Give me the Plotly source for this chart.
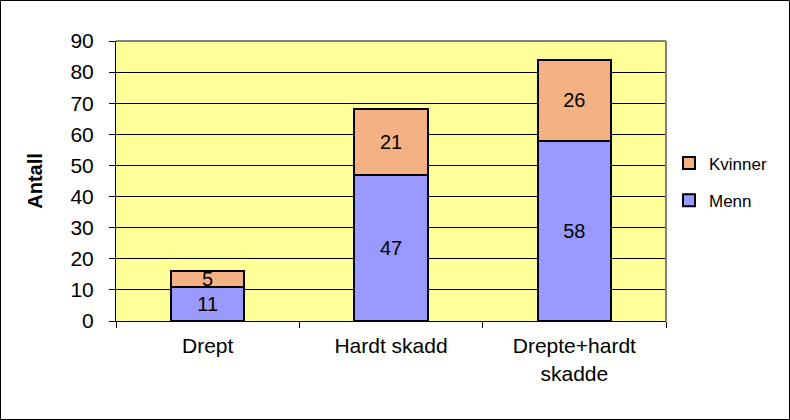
import plotly.graph_objects as go

categories = ["Drept", "Hardt skadd", "Drepte+hardt<br>skadde"]
menn = [11, 47, 58]
kvinner = [5, 21, 26]
y_ticks = [0, 10, 20, 30, 40, 50, 60, 70, 80, 90]

FONT = "Arial, Liberation Sans, sans-serif"
W, H = 790, 420
L, R, T, B = 116, 124, 41, 99
pw, ph = W - L - R, H - T - B

fig = go.Figure()
fig.add_trace(go.Bar(
    x=categories, y=menn, name="Menn", legendgroup="m", legendrank=2,
    marker=dict(color="#9999FF", line=dict(color="black", width=2)),
    text=menn, textposition="inside", insidetextanchor="middle", textangle=0,
    textfont=dict(family=FONT, size=20, color="black"),
))
fig.add_trace(go.Bar(
    x=categories, y=kvinner, name="Kvinner", legendgroup="k", legendrank=1,
    marker=dict(color="#F4B183", line=dict(color="black", width=2)),
    text=kvinner, textposition="inside", insidetextanchor="middle", textangle=0,
    textfont=dict(family=FONT, size=20, color="black"),
))

fig.update_layout(
    width=W, height=H,
    margin=dict(l=L, r=R, t=T, b=B, pad=0),
    barmode="stack", bargap=0.6,
    plot_bgcolor="#FFFF99", paper_bgcolor="white",
    font=dict(family=FONT, size=16, color="black"),
    uniformtext=dict(mode="show", minsize=10),
    showlegend=True,
    legend=dict(
        x=(669 - L) / pw, y=(321 - 182) / ph, xanchor="left", yanchor="middle",
        traceorder="grouped", font=dict(size=17, family=FONT),
        bgcolor="rgba(0,0,0,0)", itemwidth=30, tracegroupgap=12,
    ),
    xaxis=dict(
        showline=True, linecolor="black", linewidth=1,
        ticks="outside", tickson="boundaries", ticklen=6, tickcolor="black",
        tickfont=dict(size=21, family=FONT), showgrid=False,
        ticklabelstandoff=6,
    ),
    yaxis=dict(
        range=[0, 90], tickvals=y_ticks, showline=True, linecolor="black", linewidth=1,
        ticks="outside", ticklen=6, tickcolor="black",
        showgrid=True, gridcolor="black", gridwidth=1,
        tickfont=dict(size=21, family=FONT), ticklabelstandoff=11,
        title=dict(text="<b>Antall</b>", font=dict(size=20, family=FONT), standoff=22),
        zeroline=False,
    ),
    shapes=[
        dict(type="line", xref="paper", yref="paper", x0=0, x1=1, y0=1, y1=1,
             line=dict(color="#808080", width=2)),
        dict(type="line", xref="paper", yref="paper", x0=1, x1=1, y0=0, y1=1,
             line=dict(color="#808080", width=2)),
        dict(type="rect", xref="paper", yref="paper",
             x0=(0.5 - L) / pw, x1=(W - 0.5 - L) / pw,
             y0=-(B - 0.5) / ph, y1=1 + (T - 0.5) / ph,
             line=dict(color="black", width=1)),
    ],
)

fig.write_html("out.html")
